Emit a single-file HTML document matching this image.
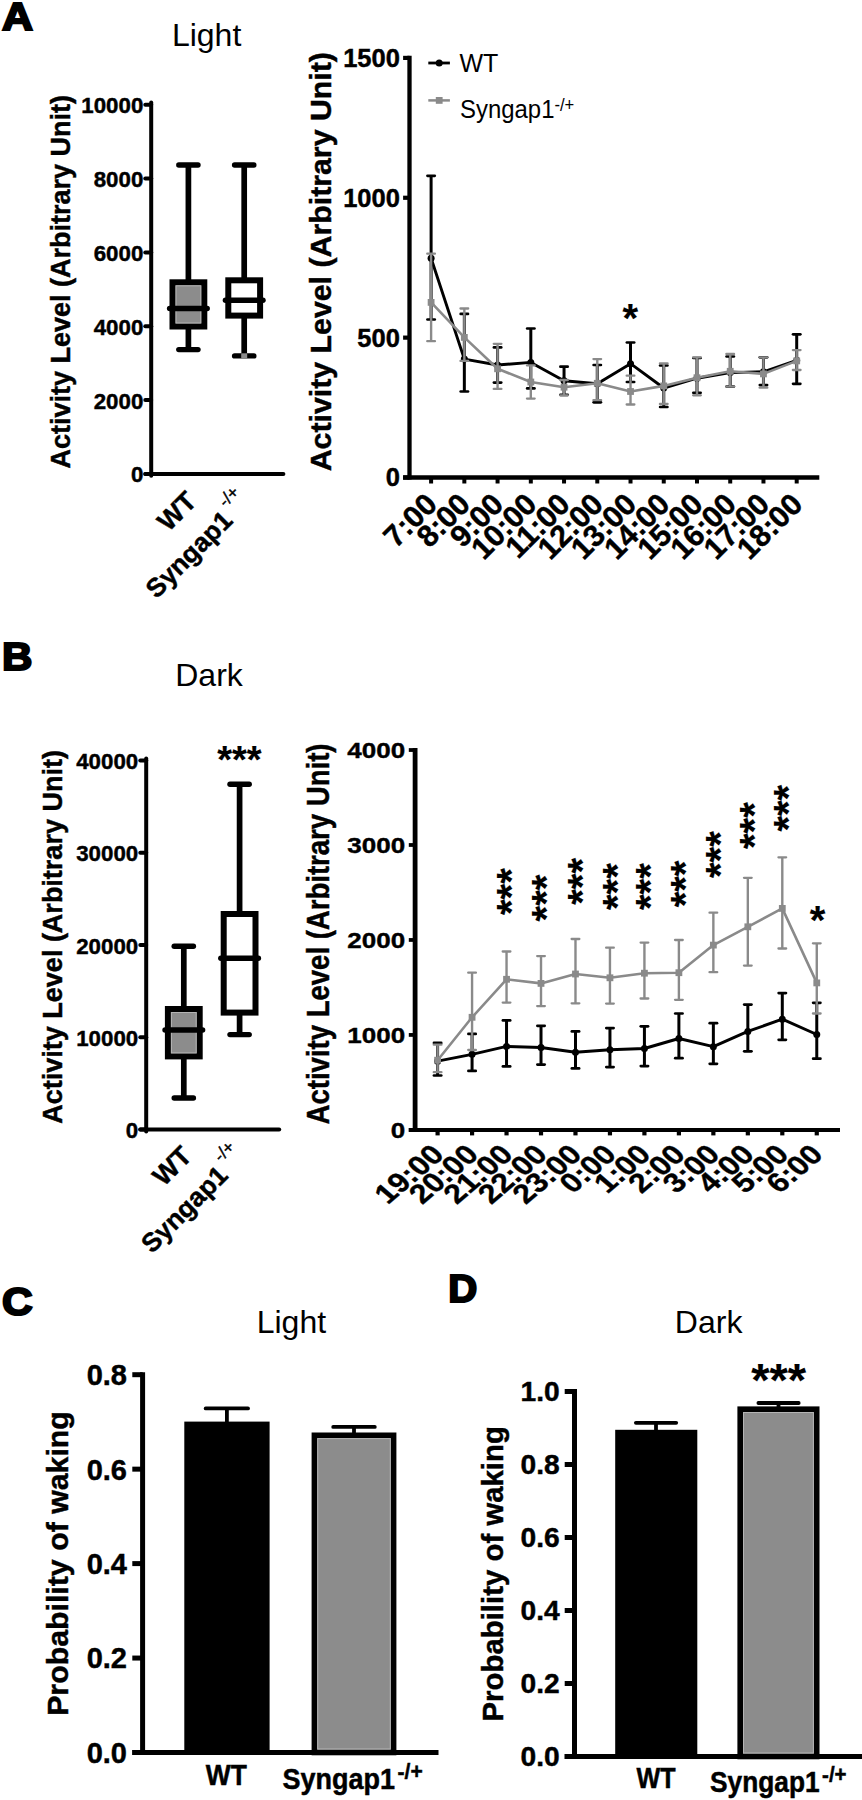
<!DOCTYPE html>
<html><head><meta charset="utf-8"><title>Figure</title>
<style>html,body{margin:0;padding:0;background:#fff}svg{display:block}text{font-family:"Liberation Sans",sans-serif;fill:#000}text.b,tspan.b{font-weight:bold;stroke:#000;stroke-width:0.45px}.sb{font-weight:bold;stroke:#000;stroke-width:0.15px}.sn{font-weight:normal;stroke:#000;stroke-width:0.4px}</style></head><body>
<svg width="862" height="1800" viewBox="0 0 862 1800">
<rect x="0" y="0" width="862" height="1800" fill="#fff"/>
<text transform="translate(2 29.6) scale(1.1 1)" font-size="39" font-weight="bold" stroke="#000" stroke-width="2.1" stroke-linejoin="miter">A</text>
<text transform="translate(2 670.2) scale(1.08 1)" font-size="39" font-weight="bold" stroke="#000" stroke-width="2.1" stroke-linejoin="miter">B</text>
<text transform="translate(2 1314.6) scale(1.09 1)" font-size="39" font-weight="bold" stroke="#000" stroke-width="2.1" stroke-linejoin="miter">C</text>
<text transform="translate(448.3 1302) scale(1.03 1)" font-size="39" font-weight="bold" stroke="#000" stroke-width="2.1" stroke-linejoin="miter">D</text>
<text transform="translate(206.6 46.2)" font-size="32" text-anchor="middle">Light</text>
<line x1="151.2" y1="102.6" x2="151.2" y2="475.8" stroke="#000" stroke-width="4" stroke-linecap="round"/>
<line x1="145.3" y1="473.9" x2="283.4" y2="473.9" stroke="#000" stroke-width="4" stroke-linecap="round"/>
<line x1="145.3" y1="473.9" x2="151.2" y2="473.9" stroke="#000" stroke-width="4" stroke-linecap="round"/>
<text class="b" transform="translate(143.3 482.4) scale(1 1.03)" font-size="22.3" text-anchor="end">0</text>
<line x1="145.3" y1="400.06" x2="151.2" y2="400.06" stroke="#000" stroke-width="4" stroke-linecap="round"/>
<text class="b" transform="translate(143.3 408.56) scale(1 1.03)" font-size="22.3" text-anchor="end">2000</text>
<line x1="145.3" y1="326.22" x2="151.2" y2="326.22" stroke="#000" stroke-width="4" stroke-linecap="round"/>
<text class="b" transform="translate(143.3 334.72) scale(1 1.03)" font-size="22.3" text-anchor="end">4000</text>
<line x1="145.3" y1="252.38" x2="151.2" y2="252.38" stroke="#000" stroke-width="4" stroke-linecap="round"/>
<text class="b" transform="translate(143.3 260.88) scale(1 1.03)" font-size="22.3" text-anchor="end">6000</text>
<line x1="145.3" y1="178.54" x2="151.2" y2="178.54" stroke="#000" stroke-width="4" stroke-linecap="round"/>
<text class="b" transform="translate(143.3 187.04) scale(1 1.03)" font-size="22.3" text-anchor="end">8000</text>
<line x1="145.3" y1="104.7" x2="151.2" y2="104.7" stroke="#000" stroke-width="4" stroke-linecap="round"/>
<text class="b" transform="translate(143.3 113.2) scale(1 1.03)" font-size="22.3" text-anchor="end">10000</text>
<text class="b" transform="translate(69.9 281.7) rotate(-90)" font-size="27" text-anchor="middle">Activity Level (Arbitrary Unit)</text>
<line x1="188.4" y1="165" x2="188.4" y2="349.6" stroke="#000" stroke-width="5.7" stroke-linecap="butt"/>
<line x1="178.8" y1="165" x2="198" y2="165" stroke="#000" stroke-width="5.4" stroke-linecap="round"/>
<line x1="178.8" y1="349.6" x2="198" y2="349.6" stroke="#000" stroke-width="5.4" stroke-linecap="round"/>
<rect x="172.5" y="282.3" width="31.8" height="44.2" fill="#8c8c8c" stroke="#000" stroke-width="6"/>
<rect x="176" y="285.8" width="24.8" height="37.2" fill="none" stroke="#b4b4b4" stroke-width="1"/>
<line x1="169.65" y1="308.4" x2="207.15" y2="308.4" stroke="#000" stroke-width="5.5" stroke-linecap="round"/>
<line x1="244.2" y1="165" x2="244.2" y2="355.9" stroke="#000" stroke-width="5.7" stroke-linecap="butt"/>
<line x1="234.6" y1="165" x2="253.8" y2="165" stroke="#000" stroke-width="5.4" stroke-linecap="round"/>
<line x1="234.6" y1="355.9" x2="253.8" y2="355.9" stroke="#000" stroke-width="5.4" stroke-linecap="round"/>
<rect x="228.3" y="280.3" width="31.8" height="35.3" fill="#fff" stroke="#000" stroke-width="6"/>
<line x1="225.45" y1="300.2" x2="262.95" y2="300.2" stroke="#000" stroke-width="5.5" stroke-linecap="round"/>
<rect x="241.2" y="353.3" width="6" height="5.2" fill="#8c8c8c" stroke="none" stroke-width="0"/>
<text class="b" transform="translate(198.1 502.8) rotate(-45)" font-size="27" text-anchor="end">WT</text>
<g transform="translate(234 522) rotate(-45)"><text class="b" font-size="26.3" text-anchor="end">Syngap1</text><text class="sn" x="3.9" y="-16" font-size="17.5">-/+</text></g>
<line x1="409.5" y1="55.81" x2="409.5" y2="479.6" stroke="#000" stroke-width="4.3" stroke-linecap="butt"/>
<line x1="403.1" y1="477.5" x2="819.3" y2="477.5" stroke="#000" stroke-width="4.3" stroke-linecap="butt"/>
<line x1="403.1" y1="477.5" x2="409.5" y2="477.5" stroke="#000" stroke-width="4.2" stroke-linecap="butt"/>
<text class="b" transform="translate(399.9 486.4)" font-size="25.5" text-anchor="end">0</text>
<line x1="403.1" y1="337.63" x2="409.5" y2="337.63" stroke="#000" stroke-width="4.2" stroke-linecap="butt"/>
<text class="b" transform="translate(399.9 346.53)" font-size="25.5" text-anchor="end">500</text>
<line x1="403.1" y1="197.77" x2="409.5" y2="197.77" stroke="#000" stroke-width="4.2" stroke-linecap="butt"/>
<text class="b" transform="translate(399.9 206.67)" font-size="25.5" text-anchor="end">1000</text>
<line x1="403.1" y1="57.91" x2="409.5" y2="57.91" stroke="#000" stroke-width="4.2" stroke-linecap="butt"/>
<text class="b" transform="translate(399.9 66.81)" font-size="25.5" text-anchor="end">1500</text>
<text class="b" transform="translate(331 261.7) rotate(-90)" font-size="30.3" text-anchor="middle">Activity Level (Arbitrary Unit)</text>
<line x1="431.1" y1="477.5" x2="431.1" y2="483.5" stroke="#000" stroke-width="4" stroke-linecap="butt"/>
<line x1="464.34" y1="477.5" x2="464.34" y2="483.5" stroke="#000" stroke-width="4" stroke-linecap="butt"/>
<line x1="497.57" y1="477.5" x2="497.57" y2="483.5" stroke="#000" stroke-width="4" stroke-linecap="butt"/>
<line x1="530.81" y1="477.5" x2="530.81" y2="483.5" stroke="#000" stroke-width="4" stroke-linecap="butt"/>
<line x1="564.04" y1="477.5" x2="564.04" y2="483.5" stroke="#000" stroke-width="4" stroke-linecap="butt"/>
<line x1="597.28" y1="477.5" x2="597.28" y2="483.5" stroke="#000" stroke-width="4" stroke-linecap="butt"/>
<line x1="630.52" y1="477.5" x2="630.52" y2="483.5" stroke="#000" stroke-width="4" stroke-linecap="butt"/>
<line x1="663.75" y1="477.5" x2="663.75" y2="483.5" stroke="#000" stroke-width="4" stroke-linecap="butt"/>
<line x1="696.99" y1="477.5" x2="696.99" y2="483.5" stroke="#000" stroke-width="4" stroke-linecap="butt"/>
<line x1="730.22" y1="477.5" x2="730.22" y2="483.5" stroke="#000" stroke-width="4" stroke-linecap="butt"/>
<line x1="763.46" y1="477.5" x2="763.46" y2="483.5" stroke="#000" stroke-width="4" stroke-linecap="butt"/>
<line x1="796.7" y1="477.5" x2="796.7" y2="483.5" stroke="#000" stroke-width="4" stroke-linecap="butt"/>
<text class="b" transform="translate(438.8 506.1) rotate(-45)" font-size="30.3" text-anchor="end">7:00</text>
<text class="b" transform="translate(472.04 506.1) rotate(-45)" font-size="30.3" text-anchor="end">8:00</text>
<text class="b" transform="translate(505.27 506.1) rotate(-45)" font-size="30.3" text-anchor="end">9:00</text>
<text class="b" transform="translate(538.51 506.1) rotate(-45)" font-size="30.3" text-anchor="end">10:00</text>
<text class="b" transform="translate(571.74 506.1) rotate(-45)" font-size="30.3" text-anchor="end">11:00</text>
<text class="b" transform="translate(604.98 506.1) rotate(-45)" font-size="30.3" text-anchor="end">12:00</text>
<text class="b" transform="translate(638.22 506.1) rotate(-45)" font-size="30.3" text-anchor="end">13:00</text>
<text class="b" transform="translate(671.45 506.1) rotate(-45)" font-size="30.3" text-anchor="end">14:00</text>
<text class="b" transform="translate(704.69 506.1) rotate(-45)" font-size="30.3" text-anchor="end">15:00</text>
<text class="b" transform="translate(737.92 506.1) rotate(-45)" font-size="30.3" text-anchor="end">16:00</text>
<text class="b" transform="translate(771.16 506.1) rotate(-45)" font-size="30.3" text-anchor="end">17:00</text>
<text class="b" transform="translate(804.4 506.1) rotate(-45)" font-size="30.3" text-anchor="end">18:00</text>
<line x1="431.1" y1="175.8" x2="431.1" y2="319.5" stroke="#000" stroke-width="3" stroke-linecap="butt"/>
<line x1="427.45" y1="175.8" x2="434.75" y2="175.8" stroke="#000" stroke-width="2.7" stroke-linecap="round"/>
<line x1="427.45" y1="319.5" x2="434.75" y2="319.5" stroke="#000" stroke-width="2.7" stroke-linecap="round"/>
<line x1="464.34" y1="313.9" x2="464.34" y2="391.5" stroke="#000" stroke-width="3" stroke-linecap="butt"/>
<line x1="460.69" y1="313.9" x2="467.99" y2="313.9" stroke="#000" stroke-width="2.7" stroke-linecap="round"/>
<line x1="460.69" y1="391.5" x2="467.99" y2="391.5" stroke="#000" stroke-width="2.7" stroke-linecap="round"/>
<line x1="497.57" y1="347.4" x2="497.57" y2="382.6" stroke="#000" stroke-width="3" stroke-linecap="butt"/>
<line x1="493.92" y1="347.4" x2="501.22" y2="347.4" stroke="#000" stroke-width="2.7" stroke-linecap="round"/>
<line x1="493.92" y1="382.6" x2="501.22" y2="382.6" stroke="#000" stroke-width="2.7" stroke-linecap="round"/>
<line x1="530.81" y1="328.5" x2="530.81" y2="388.4" stroke="#000" stroke-width="3" stroke-linecap="butt"/>
<line x1="527.16" y1="328.5" x2="534.46" y2="328.5" stroke="#000" stroke-width="2.7" stroke-linecap="round"/>
<line x1="527.16" y1="388.4" x2="534.46" y2="388.4" stroke="#000" stroke-width="2.7" stroke-linecap="round"/>
<line x1="564.04" y1="366.7" x2="564.04" y2="394.8" stroke="#000" stroke-width="3" stroke-linecap="butt"/>
<line x1="560.39" y1="366.7" x2="567.69" y2="366.7" stroke="#000" stroke-width="2.7" stroke-linecap="round"/>
<line x1="560.39" y1="394.8" x2="567.69" y2="394.8" stroke="#000" stroke-width="2.7" stroke-linecap="round"/>
<line x1="597.28" y1="365" x2="597.28" y2="402.3" stroke="#000" stroke-width="3" stroke-linecap="butt"/>
<line x1="593.63" y1="365" x2="600.93" y2="365" stroke="#000" stroke-width="2.7" stroke-linecap="round"/>
<line x1="593.63" y1="402.3" x2="600.93" y2="402.3" stroke="#000" stroke-width="2.7" stroke-linecap="round"/>
<line x1="630.52" y1="342.5" x2="630.52" y2="382" stroke="#000" stroke-width="3" stroke-linecap="butt"/>
<line x1="626.87" y1="342.5" x2="634.17" y2="342.5" stroke="#000" stroke-width="2.7" stroke-linecap="round"/>
<line x1="626.87" y1="382" x2="634.17" y2="382" stroke="#000" stroke-width="2.7" stroke-linecap="round"/>
<line x1="663.75" y1="365.5" x2="663.75" y2="407" stroke="#000" stroke-width="3" stroke-linecap="butt"/>
<line x1="660.1" y1="365.5" x2="667.4" y2="365.5" stroke="#000" stroke-width="2.7" stroke-linecap="round"/>
<line x1="660.1" y1="407" x2="667.4" y2="407" stroke="#000" stroke-width="2.7" stroke-linecap="round"/>
<line x1="696.99" y1="358" x2="696.99" y2="392.8" stroke="#000" stroke-width="3" stroke-linecap="butt"/>
<line x1="693.34" y1="358" x2="700.64" y2="358" stroke="#000" stroke-width="2.7" stroke-linecap="round"/>
<line x1="693.34" y1="392.8" x2="700.64" y2="392.8" stroke="#000" stroke-width="2.7" stroke-linecap="round"/>
<line x1="730.22" y1="356.5" x2="730.22" y2="386.6" stroke="#000" stroke-width="3" stroke-linecap="butt"/>
<line x1="726.57" y1="356.5" x2="733.87" y2="356.5" stroke="#000" stroke-width="2.7" stroke-linecap="round"/>
<line x1="726.57" y1="386.6" x2="733.87" y2="386.6" stroke="#000" stroke-width="2.7" stroke-linecap="round"/>
<line x1="763.46" y1="357.3" x2="763.46" y2="385.1" stroke="#000" stroke-width="3" stroke-linecap="butt"/>
<line x1="759.81" y1="357.3" x2="767.11" y2="357.3" stroke="#000" stroke-width="2.7" stroke-linecap="round"/>
<line x1="759.81" y1="385.1" x2="767.11" y2="385.1" stroke="#000" stroke-width="2.7" stroke-linecap="round"/>
<line x1="796.7" y1="334.3" x2="796.7" y2="383.8" stroke="#000" stroke-width="3" stroke-linecap="butt"/>
<line x1="793.05" y1="334.3" x2="800.35" y2="334.3" stroke="#000" stroke-width="2.7" stroke-linecap="round"/>
<line x1="793.05" y1="383.8" x2="800.35" y2="383.8" stroke="#000" stroke-width="2.7" stroke-linecap="round"/>
<polyline points="431.1,258.3 464.34,359.1 497.57,365 530.81,362.4 564.04,380.8 597.28,383.8 630.52,363.7 663.75,388 696.99,378.2 730.22,372.6 763.46,371.8 796.7,360.4" fill="none" stroke="#000" stroke-width="2.9" stroke-linejoin="round"/>
<circle cx="431.1" cy="258.3" r="3.5" fill="#000"/>
<circle cx="464.34" cy="359.1" r="3.5" fill="#000"/>
<circle cx="497.57" cy="365" r="3.5" fill="#000"/>
<circle cx="530.81" cy="362.4" r="3.5" fill="#000"/>
<circle cx="564.04" cy="380.8" r="3.5" fill="#000"/>
<circle cx="597.28" cy="383.8" r="3.5" fill="#000"/>
<circle cx="630.52" cy="363.7" r="3.5" fill="#000"/>
<circle cx="663.75" cy="388" r="3.5" fill="#000"/>
<circle cx="696.99" cy="378.2" r="3.5" fill="#000"/>
<circle cx="730.22" cy="372.6" r="3.5" fill="#000"/>
<circle cx="763.46" cy="371.8" r="3.5" fill="#000"/>
<circle cx="796.7" cy="360.4" r="3.5" fill="#000"/>
<line x1="431.1" y1="253.7" x2="431.1" y2="341.2" stroke="#8a8a8a" stroke-width="2.4" stroke-linecap="butt"/>
<line x1="427.25" y1="253.7" x2="434.95" y2="253.7" stroke="#8a8a8a" stroke-width="2.3" stroke-linecap="round"/>
<line x1="427.25" y1="341.2" x2="434.95" y2="341.2" stroke="#8a8a8a" stroke-width="2.3" stroke-linecap="round"/>
<line x1="464.34" y1="308.5" x2="464.34" y2="360.9" stroke="#8a8a8a" stroke-width="2.4" stroke-linecap="butt"/>
<line x1="460.49" y1="308.5" x2="468.19" y2="308.5" stroke="#8a8a8a" stroke-width="2.3" stroke-linecap="round"/>
<line x1="460.49" y1="360.9" x2="468.19" y2="360.9" stroke="#8a8a8a" stroke-width="2.3" stroke-linecap="round"/>
<line x1="497.57" y1="343.8" x2="497.57" y2="388.9" stroke="#8a8a8a" stroke-width="2.4" stroke-linecap="butt"/>
<line x1="493.72" y1="343.8" x2="501.42" y2="343.8" stroke="#8a8a8a" stroke-width="2.3" stroke-linecap="round"/>
<line x1="493.72" y1="388.9" x2="501.42" y2="388.9" stroke="#8a8a8a" stroke-width="2.3" stroke-linecap="round"/>
<line x1="530.81" y1="365.4" x2="530.81" y2="398.6" stroke="#8a8a8a" stroke-width="2.4" stroke-linecap="butt"/>
<line x1="526.96" y1="365.4" x2="534.66" y2="365.4" stroke="#8a8a8a" stroke-width="2.3" stroke-linecap="round"/>
<line x1="526.96" y1="398.6" x2="534.66" y2="398.6" stroke="#8a8a8a" stroke-width="2.3" stroke-linecap="round"/>
<line x1="564.04" y1="380" x2="564.04" y2="395.3" stroke="#8a8a8a" stroke-width="2.4" stroke-linecap="butt"/>
<line x1="560.19" y1="380" x2="567.89" y2="380" stroke="#8a8a8a" stroke-width="2.3" stroke-linecap="round"/>
<line x1="560.19" y1="395.3" x2="567.89" y2="395.3" stroke="#8a8a8a" stroke-width="2.3" stroke-linecap="round"/>
<line x1="597.28" y1="359.1" x2="597.28" y2="400.2" stroke="#8a8a8a" stroke-width="2.4" stroke-linecap="butt"/>
<line x1="593.43" y1="359.1" x2="601.13" y2="359.1" stroke="#8a8a8a" stroke-width="2.3" stroke-linecap="round"/>
<line x1="593.43" y1="400.2" x2="601.13" y2="400.2" stroke="#8a8a8a" stroke-width="2.3" stroke-linecap="round"/>
<line x1="630.52" y1="375.7" x2="630.52" y2="404.5" stroke="#8a8a8a" stroke-width="2.4" stroke-linecap="butt"/>
<line x1="626.67" y1="375.7" x2="634.37" y2="375.7" stroke="#8a8a8a" stroke-width="2.3" stroke-linecap="round"/>
<line x1="626.67" y1="404.5" x2="634.37" y2="404.5" stroke="#8a8a8a" stroke-width="2.3" stroke-linecap="round"/>
<line x1="663.75" y1="363.4" x2="663.75" y2="404" stroke="#8a8a8a" stroke-width="2.4" stroke-linecap="butt"/>
<line x1="659.9" y1="363.4" x2="667.6" y2="363.4" stroke="#8a8a8a" stroke-width="2.3" stroke-linecap="round"/>
<line x1="659.9" y1="404" x2="667.6" y2="404" stroke="#8a8a8a" stroke-width="2.3" stroke-linecap="round"/>
<line x1="696.99" y1="357.3" x2="696.99" y2="395.3" stroke="#8a8a8a" stroke-width="2.4" stroke-linecap="butt"/>
<line x1="693.14" y1="357.3" x2="700.84" y2="357.3" stroke="#8a8a8a" stroke-width="2.3" stroke-linecap="round"/>
<line x1="693.14" y1="395.3" x2="700.84" y2="395.3" stroke="#8a8a8a" stroke-width="2.3" stroke-linecap="round"/>
<line x1="730.22" y1="354" x2="730.22" y2="386.6" stroke="#8a8a8a" stroke-width="2.4" stroke-linecap="butt"/>
<line x1="726.37" y1="354" x2="734.07" y2="354" stroke="#8a8a8a" stroke-width="2.3" stroke-linecap="round"/>
<line x1="726.37" y1="386.6" x2="734.07" y2="386.6" stroke="#8a8a8a" stroke-width="2.3" stroke-linecap="round"/>
<line x1="763.46" y1="357.3" x2="763.46" y2="387.7" stroke="#8a8a8a" stroke-width="2.4" stroke-linecap="butt"/>
<line x1="759.61" y1="357.3" x2="767.31" y2="357.3" stroke="#8a8a8a" stroke-width="2.3" stroke-linecap="round"/>
<line x1="759.61" y1="387.7" x2="767.31" y2="387.7" stroke="#8a8a8a" stroke-width="2.3" stroke-linecap="round"/>
<line x1="796.7" y1="350.1" x2="796.7" y2="370" stroke="#8a8a8a" stroke-width="2.4" stroke-linecap="butt"/>
<line x1="792.85" y1="350.1" x2="800.55" y2="350.1" stroke="#8a8a8a" stroke-width="2.3" stroke-linecap="round"/>
<line x1="792.85" y1="370" x2="800.55" y2="370" stroke="#8a8a8a" stroke-width="2.3" stroke-linecap="round"/>
<polyline points="431.1,302.4 464.34,337.4 497.57,368.8 530.81,382 564.04,387.2 597.28,383.3 630.52,391.5 663.75,385.9 696.99,377.7 730.22,371.3 763.46,373.9 796.7,360.9" fill="none" stroke="#8a8a8a" stroke-width="2.6" stroke-linejoin="round"/>
<rect x="427.7" y="299" width="6.8" height="6.8" fill="#8a8a8a" stroke="none" stroke-width="0"/>
<rect x="460.94" y="334" width="6.8" height="6.8" fill="#8a8a8a" stroke="none" stroke-width="0"/>
<rect x="494.17" y="365.4" width="6.8" height="6.8" fill="#8a8a8a" stroke="none" stroke-width="0"/>
<rect x="527.41" y="378.6" width="6.8" height="6.8" fill="#8a8a8a" stroke="none" stroke-width="0"/>
<rect x="560.64" y="383.8" width="6.8" height="6.8" fill="#8a8a8a" stroke="none" stroke-width="0"/>
<rect x="593.88" y="379.9" width="6.8" height="6.8" fill="#8a8a8a" stroke="none" stroke-width="0"/>
<rect x="627.12" y="388.1" width="6.8" height="6.8" fill="#8a8a8a" stroke="none" stroke-width="0"/>
<rect x="660.35" y="382.5" width="6.8" height="6.8" fill="#8a8a8a" stroke="none" stroke-width="0"/>
<rect x="693.59" y="374.3" width="6.8" height="6.8" fill="#8a8a8a" stroke="none" stroke-width="0"/>
<rect x="726.82" y="367.9" width="6.8" height="6.8" fill="#8a8a8a" stroke="none" stroke-width="0"/>
<rect x="760.06" y="370.5" width="6.8" height="6.8" fill="#8a8a8a" stroke="none" stroke-width="0"/>
<rect x="793.3" y="357.5" width="6.8" height="6.8" fill="#8a8a8a" stroke="none" stroke-width="0"/>
<text class="sb" transform="translate(630.3 331.7)" font-size="40" text-anchor="middle">*</text>
<line x1="428.3" y1="63" x2="449.9" y2="63" stroke="#000" stroke-width="2.8" stroke-linecap="butt"/>
<circle cx="439.2" cy="63" r="3.5" fill="#000"/>
<text transform="translate(459.4 71.8)" font-size="25" text-anchor="start">WT</text>
<line x1="428.3" y1="100.4" x2="449.9" y2="100.4" stroke="#8a8a8a" stroke-width="2.5" stroke-linecap="butt"/>
<rect x="435.8" y="97" width="6.8" height="6.8" fill="#8a8a8a" stroke="none" stroke-width="0"/>
<text transform="translate(460 117.6) scale(0.95 1)" font-size="25.2">Syngap1<tspan font-size="17.5" dx="0" dy="-6.8">-/+</tspan></text>
<text transform="translate(209 686.2)" font-size="32" text-anchor="middle">Dark</text>
<line x1="146.2" y1="758.5" x2="146.2" y2="1131.5" stroke="#000" stroke-width="4" stroke-linecap="round"/>
<line x1="140.3" y1="1129.4" x2="279.2" y2="1129.4" stroke="#000" stroke-width="4" stroke-linecap="round"/>
<line x1="140.3" y1="1129.4" x2="146.2" y2="1129.4" stroke="#000" stroke-width="4" stroke-linecap="round"/>
<text class="b" transform="translate(138.2 1138) scale(1 1.03)" font-size="22.3" text-anchor="end">0</text>
<line x1="140.3" y1="1037.2" x2="146.2" y2="1037.2" stroke="#000" stroke-width="4" stroke-linecap="round"/>
<text class="b" transform="translate(138.2 1045.8) scale(1 1.03)" font-size="22.3" text-anchor="end">10000</text>
<line x1="140.3" y1="945" x2="146.2" y2="945" stroke="#000" stroke-width="4" stroke-linecap="round"/>
<text class="b" transform="translate(138.2 953.6) scale(1 1.03)" font-size="22.3" text-anchor="end">20000</text>
<line x1="140.3" y1="852.8" x2="146.2" y2="852.8" stroke="#000" stroke-width="4" stroke-linecap="round"/>
<text class="b" transform="translate(138.2 861.4) scale(1 1.03)" font-size="22.3" text-anchor="end">30000</text>
<line x1="140.3" y1="760.6" x2="146.2" y2="760.6" stroke="#000" stroke-width="4" stroke-linecap="round"/>
<text class="b" transform="translate(138.2 769.2) scale(1 1.03)" font-size="22.3" text-anchor="end">40000</text>
<text class="b" transform="translate(61.5 936.9) rotate(-90)" font-size="27" text-anchor="middle">Activity Level (Arbitrary Unit)</text>
<line x1="183.8" y1="946.2" x2="183.8" y2="1098" stroke="#000" stroke-width="5.7" stroke-linecap="butt"/>
<line x1="174.2" y1="946.2" x2="193.4" y2="946.2" stroke="#000" stroke-width="5.4" stroke-linecap="round"/>
<line x1="174.2" y1="1098" x2="193.4" y2="1098" stroke="#000" stroke-width="5.4" stroke-linecap="round"/>
<rect x="167.9" y="1009" width="31.8" height="47.4" fill="#8c8c8c" stroke="#000" stroke-width="6"/>
<rect x="171.4" y="1012.5" width="24.8" height="40.4" fill="none" stroke="#b4b4b4" stroke-width="1"/>
<line x1="165.05" y1="1030.1" x2="202.55" y2="1030.1" stroke="#000" stroke-width="5.5" stroke-linecap="round"/>
<line x1="239.6" y1="784.3" x2="239.6" y2="1034.6" stroke="#000" stroke-width="5.7" stroke-linecap="butt"/>
<line x1="230" y1="784.3" x2="249.2" y2="784.3" stroke="#000" stroke-width="5.4" stroke-linecap="round"/>
<line x1="230" y1="1034.6" x2="249.2" y2="1034.6" stroke="#000" stroke-width="5.4" stroke-linecap="round"/>
<rect x="223.7" y="914" width="31.8" height="98.6" fill="#fff" stroke="#000" stroke-width="6"/>
<line x1="220.85" y1="958.3" x2="258.35" y2="958.3" stroke="#000" stroke-width="5.5" stroke-linecap="round"/>
<text class="sb" transform="translate(239.4 773)" font-size="38" text-anchor="middle">***</text>
<text class="b" transform="translate(193.5 1157.6) rotate(-45)" font-size="27" text-anchor="end">WT</text>
<g transform="translate(229.4 1176.8) rotate(-45)"><text class="b" font-size="26.3" text-anchor="end">Syngap1</text><text class="sn" x="3.9" y="-16" font-size="17.5">-/+</text></g>
<line x1="415.1" y1="748.12" x2="415.1" y2="1131.9" stroke="#000" stroke-width="4.8" stroke-linecap="butt"/>
<line x1="408.8" y1="1129.9" x2="840" y2="1129.9" stroke="#000" stroke-width="4" stroke-linecap="butt"/>
<line x1="408.8" y1="1129.9" x2="415.1" y2="1129.9" stroke="#000" stroke-width="3.8" stroke-linecap="butt"/>
<text class="b" transform="translate(405.2 1137.7) scale(1.02 0.87)" font-size="25.5" text-anchor="end">0</text>
<line x1="408.8" y1="1034.93" x2="415.1" y2="1034.93" stroke="#000" stroke-width="3.8" stroke-linecap="butt"/>
<text class="b" transform="translate(405.2 1042.73) scale(1.02 0.87)" font-size="25.5" text-anchor="end">1000</text>
<line x1="408.8" y1="939.96" x2="415.1" y2="939.96" stroke="#000" stroke-width="3.8" stroke-linecap="butt"/>
<text class="b" transform="translate(405.2 947.76) scale(1.02 0.87)" font-size="25.5" text-anchor="end">2000</text>
<line x1="408.8" y1="844.99" x2="415.1" y2="844.99" stroke="#000" stroke-width="3.8" stroke-linecap="butt"/>
<text class="b" transform="translate(405.2 852.79) scale(1.02 0.87)" font-size="25.5" text-anchor="end">3000</text>
<line x1="408.8" y1="750.02" x2="415.1" y2="750.02" stroke="#000" stroke-width="3.8" stroke-linecap="butt"/>
<text class="b" transform="translate(405.2 757.82) scale(1.02 0.87)" font-size="25.5" text-anchor="end">4000</text>
<text class="b" transform="translate(329 934) scale(1 0.88) rotate(-90)" font-size="31.3" text-anchor="middle">Activity Level (Arbitrary Unit)</text>
<line x1="437.6" y1="1129.9" x2="437.6" y2="1135.4" stroke="#000" stroke-width="4.2" stroke-linecap="butt"/>
<line x1="472.07" y1="1129.9" x2="472.07" y2="1135.4" stroke="#000" stroke-width="4.2" stroke-linecap="butt"/>
<line x1="506.54" y1="1129.9" x2="506.54" y2="1135.4" stroke="#000" stroke-width="4.2" stroke-linecap="butt"/>
<line x1="541.01" y1="1129.9" x2="541.01" y2="1135.4" stroke="#000" stroke-width="4.2" stroke-linecap="butt"/>
<line x1="575.48" y1="1129.9" x2="575.48" y2="1135.4" stroke="#000" stroke-width="4.2" stroke-linecap="butt"/>
<line x1="609.95" y1="1129.9" x2="609.95" y2="1135.4" stroke="#000" stroke-width="4.2" stroke-linecap="butt"/>
<line x1="644.42" y1="1129.9" x2="644.42" y2="1135.4" stroke="#000" stroke-width="4.2" stroke-linecap="butt"/>
<line x1="678.89" y1="1129.9" x2="678.89" y2="1135.4" stroke="#000" stroke-width="4.2" stroke-linecap="butt"/>
<line x1="713.36" y1="1129.9" x2="713.36" y2="1135.4" stroke="#000" stroke-width="4.2" stroke-linecap="butt"/>
<line x1="747.83" y1="1129.9" x2="747.83" y2="1135.4" stroke="#000" stroke-width="4.2" stroke-linecap="butt"/>
<line x1="782.3" y1="1129.9" x2="782.3" y2="1135.4" stroke="#000" stroke-width="4.2" stroke-linecap="butt"/>
<line x1="816.77" y1="1129.9" x2="816.77" y2="1135.4" stroke="#000" stroke-width="4.2" stroke-linecap="butt"/>
<text class="b" transform="translate(445.5 1156) scale(1.03 0.88) rotate(-45)" font-size="31" text-anchor="end">19:00</text>
<text class="b" transform="translate(479.97 1156) scale(1.03 0.88) rotate(-45)" font-size="31" text-anchor="end">20:00</text>
<text class="b" transform="translate(514.44 1156) scale(1.03 0.88) rotate(-45)" font-size="31" text-anchor="end">21:00</text>
<text class="b" transform="translate(548.91 1156) scale(1.03 0.88) rotate(-45)" font-size="31" text-anchor="end">22:00</text>
<text class="b" transform="translate(583.38 1156) scale(1.03 0.88) rotate(-45)" font-size="31" text-anchor="end">23:00</text>
<text class="b" transform="translate(617.85 1156) scale(1.03 0.88) rotate(-45)" font-size="31" text-anchor="end">0:00</text>
<text class="b" transform="translate(652.32 1156) scale(1.03 0.88) rotate(-45)" font-size="31" text-anchor="end">1:00</text>
<text class="b" transform="translate(686.79 1156) scale(1.03 0.88) rotate(-45)" font-size="31" text-anchor="end">2:00</text>
<text class="b" transform="translate(721.26 1156) scale(1.03 0.88) rotate(-45)" font-size="31" text-anchor="end">3:00</text>
<text class="b" transform="translate(755.73 1156) scale(1.03 0.88) rotate(-45)" font-size="31" text-anchor="end">4:00</text>
<text class="b" transform="translate(790.2 1156) scale(1.03 0.88) rotate(-45)" font-size="31" text-anchor="end">5:00</text>
<text class="b" transform="translate(824.67 1156) scale(1.03 0.88) rotate(-45)" font-size="31" text-anchor="end">6:00</text>
<line x1="437.6" y1="1042.9" x2="437.6" y2="1075.5" stroke="#000" stroke-width="3" stroke-linecap="butt"/>
<line x1="433.95" y1="1042.9" x2="441.25" y2="1042.9" stroke="#000" stroke-width="2.7" stroke-linecap="round"/>
<line x1="433.95" y1="1075.5" x2="441.25" y2="1075.5" stroke="#000" stroke-width="2.7" stroke-linecap="round"/>
<line x1="472.07" y1="1033.9" x2="472.07" y2="1070.9" stroke="#000" stroke-width="3" stroke-linecap="butt"/>
<line x1="468.42" y1="1033.9" x2="475.72" y2="1033.9" stroke="#000" stroke-width="2.7" stroke-linecap="round"/>
<line x1="468.42" y1="1070.9" x2="475.72" y2="1070.9" stroke="#000" stroke-width="2.7" stroke-linecap="round"/>
<line x1="506.54" y1="1020.4" x2="506.54" y2="1066.4" stroke="#000" stroke-width="3" stroke-linecap="butt"/>
<line x1="502.89" y1="1020.4" x2="510.19" y2="1020.4" stroke="#000" stroke-width="2.7" stroke-linecap="round"/>
<line x1="502.89" y1="1066.4" x2="510.19" y2="1066.4" stroke="#000" stroke-width="2.7" stroke-linecap="round"/>
<line x1="541.01" y1="1025.8" x2="541.01" y2="1064.6" stroke="#000" stroke-width="3" stroke-linecap="butt"/>
<line x1="537.36" y1="1025.8" x2="544.66" y2="1025.8" stroke="#000" stroke-width="2.7" stroke-linecap="round"/>
<line x1="537.36" y1="1064.6" x2="544.66" y2="1064.6" stroke="#000" stroke-width="2.7" stroke-linecap="round"/>
<line x1="575.48" y1="1031.4" x2="575.48" y2="1068.4" stroke="#000" stroke-width="3" stroke-linecap="butt"/>
<line x1="571.83" y1="1031.4" x2="579.13" y2="1031.4" stroke="#000" stroke-width="2.7" stroke-linecap="round"/>
<line x1="571.83" y1="1068.4" x2="579.13" y2="1068.4" stroke="#000" stroke-width="2.7" stroke-linecap="round"/>
<line x1="609.95" y1="1028.1" x2="609.95" y2="1067.1" stroke="#000" stroke-width="3" stroke-linecap="butt"/>
<line x1="606.3" y1="1028.1" x2="613.6" y2="1028.1" stroke="#000" stroke-width="2.7" stroke-linecap="round"/>
<line x1="606.3" y1="1067.1" x2="613.6" y2="1067.1" stroke="#000" stroke-width="2.7" stroke-linecap="round"/>
<line x1="644.42" y1="1026.3" x2="644.42" y2="1066.1" stroke="#000" stroke-width="3" stroke-linecap="butt"/>
<line x1="640.77" y1="1026.3" x2="648.07" y2="1026.3" stroke="#000" stroke-width="2.7" stroke-linecap="round"/>
<line x1="640.77" y1="1066.1" x2="648.07" y2="1066.1" stroke="#000" stroke-width="2.7" stroke-linecap="round"/>
<line x1="678.89" y1="1013.5" x2="678.89" y2="1058.2" stroke="#000" stroke-width="3" stroke-linecap="butt"/>
<line x1="675.24" y1="1013.5" x2="682.54" y2="1013.5" stroke="#000" stroke-width="2.7" stroke-linecap="round"/>
<line x1="675.24" y1="1058.2" x2="682.54" y2="1058.2" stroke="#000" stroke-width="2.7" stroke-linecap="round"/>
<line x1="713.36" y1="1023.2" x2="713.36" y2="1063.8" stroke="#000" stroke-width="3" stroke-linecap="butt"/>
<line x1="709.71" y1="1023.2" x2="717.01" y2="1023.2" stroke="#000" stroke-width="2.7" stroke-linecap="round"/>
<line x1="709.71" y1="1063.8" x2="717.01" y2="1063.8" stroke="#000" stroke-width="2.7" stroke-linecap="round"/>
<line x1="747.83" y1="1004.6" x2="747.83" y2="1051.3" stroke="#000" stroke-width="3" stroke-linecap="butt"/>
<line x1="744.18" y1="1004.6" x2="751.48" y2="1004.6" stroke="#000" stroke-width="2.7" stroke-linecap="round"/>
<line x1="744.18" y1="1051.3" x2="751.48" y2="1051.3" stroke="#000" stroke-width="2.7" stroke-linecap="round"/>
<line x1="782.3" y1="993.1" x2="782.3" y2="1039.8" stroke="#000" stroke-width="3" stroke-linecap="butt"/>
<line x1="778.65" y1="993.1" x2="785.95" y2="993.1" stroke="#000" stroke-width="2.7" stroke-linecap="round"/>
<line x1="778.65" y1="1039.8" x2="785.95" y2="1039.8" stroke="#000" stroke-width="2.7" stroke-linecap="round"/>
<line x1="816.77" y1="1002.8" x2="816.77" y2="1058.7" stroke="#000" stroke-width="3" stroke-linecap="butt"/>
<line x1="813.12" y1="1002.8" x2="820.42" y2="1002.8" stroke="#000" stroke-width="2.7" stroke-linecap="round"/>
<line x1="813.12" y1="1058.7" x2="820.42" y2="1058.7" stroke="#000" stroke-width="2.7" stroke-linecap="round"/>
<polyline points="437.6,1061.2 472.07,1054.3 506.54,1046.4 541.01,1047.5 575.48,1052.3 609.95,1049.8 644.42,1048.5 678.89,1038.5 713.36,1046.7 747.83,1031.4 782.3,1019.2 816.77,1034.5" fill="none" stroke="#000" stroke-width="2.9" stroke-linejoin="round"/>
<circle cx="437.6" cy="1061.2" r="3.5" fill="#000"/>
<circle cx="472.07" cy="1054.3" r="3.5" fill="#000"/>
<circle cx="506.54" cy="1046.4" r="3.5" fill="#000"/>
<circle cx="541.01" cy="1047.5" r="3.5" fill="#000"/>
<circle cx="575.48" cy="1052.3" r="3.5" fill="#000"/>
<circle cx="609.95" cy="1049.8" r="3.5" fill="#000"/>
<circle cx="644.42" cy="1048.5" r="3.5" fill="#000"/>
<circle cx="678.89" cy="1038.5" r="3.5" fill="#000"/>
<circle cx="713.36" cy="1046.7" r="3.5" fill="#000"/>
<circle cx="747.83" cy="1031.4" r="3.5" fill="#000"/>
<circle cx="782.3" cy="1019.2" r="3.5" fill="#000"/>
<circle cx="816.77" cy="1034.5" r="3.5" fill="#000"/>
<line x1="437.6" y1="1044.7" x2="437.6" y2="1072.2" stroke="#8a8a8a" stroke-width="2.4" stroke-linecap="butt"/>
<line x1="433.75" y1="1044.7" x2="441.45" y2="1044.7" stroke="#8a8a8a" stroke-width="2.3" stroke-linecap="round"/>
<line x1="433.75" y1="1072.2" x2="441.45" y2="1072.2" stroke="#8a8a8a" stroke-width="2.3" stroke-linecap="round"/>
<line x1="472.07" y1="972.7" x2="472.07" y2="1050" stroke="#8a8a8a" stroke-width="2.4" stroke-linecap="butt"/>
<line x1="468.22" y1="972.7" x2="475.92" y2="972.7" stroke="#8a8a8a" stroke-width="2.3" stroke-linecap="round"/>
<line x1="468.22" y1="1050" x2="475.92" y2="1050" stroke="#8a8a8a" stroke-width="2.3" stroke-linecap="round"/>
<line x1="506.54" y1="951.5" x2="506.54" y2="1002.6" stroke="#8a8a8a" stroke-width="2.4" stroke-linecap="butt"/>
<line x1="502.69" y1="951.5" x2="510.39" y2="951.5" stroke="#8a8a8a" stroke-width="2.3" stroke-linecap="round"/>
<line x1="502.69" y1="1002.6" x2="510.39" y2="1002.6" stroke="#8a8a8a" stroke-width="2.3" stroke-linecap="round"/>
<line x1="541.01" y1="956.1" x2="541.01" y2="1006.1" stroke="#8a8a8a" stroke-width="2.4" stroke-linecap="butt"/>
<line x1="537.16" y1="956.1" x2="544.86" y2="956.1" stroke="#8a8a8a" stroke-width="2.3" stroke-linecap="round"/>
<line x1="537.16" y1="1006.1" x2="544.86" y2="1006.1" stroke="#8a8a8a" stroke-width="2.3" stroke-linecap="round"/>
<line x1="575.48" y1="939" x2="575.48" y2="1003.3" stroke="#8a8a8a" stroke-width="2.4" stroke-linecap="butt"/>
<line x1="571.63" y1="939" x2="579.33" y2="939" stroke="#8a8a8a" stroke-width="2.3" stroke-linecap="round"/>
<line x1="571.63" y1="1003.3" x2="579.33" y2="1003.3" stroke="#8a8a8a" stroke-width="2.3" stroke-linecap="round"/>
<line x1="609.95" y1="947.7" x2="609.95" y2="1003.6" stroke="#8a8a8a" stroke-width="2.4" stroke-linecap="butt"/>
<line x1="606.1" y1="947.7" x2="613.8" y2="947.7" stroke="#8a8a8a" stroke-width="2.3" stroke-linecap="round"/>
<line x1="606.1" y1="1003.6" x2="613.8" y2="1003.6" stroke="#8a8a8a" stroke-width="2.3" stroke-linecap="round"/>
<line x1="644.42" y1="942.6" x2="644.42" y2="998.5" stroke="#8a8a8a" stroke-width="2.4" stroke-linecap="butt"/>
<line x1="640.57" y1="942.6" x2="648.27" y2="942.6" stroke="#8a8a8a" stroke-width="2.3" stroke-linecap="round"/>
<line x1="640.57" y1="998.5" x2="648.27" y2="998.5" stroke="#8a8a8a" stroke-width="2.3" stroke-linecap="round"/>
<line x1="678.89" y1="940" x2="678.89" y2="999.8" stroke="#8a8a8a" stroke-width="2.4" stroke-linecap="butt"/>
<line x1="675.04" y1="940" x2="682.74" y2="940" stroke="#8a8a8a" stroke-width="2.3" stroke-linecap="round"/>
<line x1="675.04" y1="999.8" x2="682.74" y2="999.8" stroke="#8a8a8a" stroke-width="2.3" stroke-linecap="round"/>
<line x1="713.36" y1="912.7" x2="713.36" y2="972.2" stroke="#8a8a8a" stroke-width="2.4" stroke-linecap="butt"/>
<line x1="709.51" y1="912.7" x2="717.21" y2="912.7" stroke="#8a8a8a" stroke-width="2.3" stroke-linecap="round"/>
<line x1="709.51" y1="972.2" x2="717.21" y2="972.2" stroke="#8a8a8a" stroke-width="2.3" stroke-linecap="round"/>
<line x1="747.83" y1="877.8" x2="747.83" y2="965.6" stroke="#8a8a8a" stroke-width="2.4" stroke-linecap="butt"/>
<line x1="743.98" y1="877.8" x2="751.68" y2="877.8" stroke="#8a8a8a" stroke-width="2.3" stroke-linecap="round"/>
<line x1="743.98" y1="965.6" x2="751.68" y2="965.6" stroke="#8a8a8a" stroke-width="2.3" stroke-linecap="round"/>
<line x1="782.3" y1="857.3" x2="782.3" y2="948.5" stroke="#8a8a8a" stroke-width="2.4" stroke-linecap="butt"/>
<line x1="778.45" y1="857.3" x2="786.15" y2="857.3" stroke="#8a8a8a" stroke-width="2.3" stroke-linecap="round"/>
<line x1="778.45" y1="948.5" x2="786.15" y2="948.5" stroke="#8a8a8a" stroke-width="2.3" stroke-linecap="round"/>
<line x1="816.77" y1="943.3" x2="816.77" y2="1013.5" stroke="#8a8a8a" stroke-width="2.4" stroke-linecap="butt"/>
<line x1="812.92" y1="943.3" x2="820.62" y2="943.3" stroke="#8a8a8a" stroke-width="2.3" stroke-linecap="round"/>
<line x1="812.92" y1="1013.5" x2="820.62" y2="1013.5" stroke="#8a8a8a" stroke-width="2.3" stroke-linecap="round"/>
<polyline points="437.6,1060.2 472.07,1017.3 506.54,979.3 541.01,983.4 575.48,974 609.95,977.8 644.42,973.2 678.89,972.7 713.36,945.1 747.83,926.8 782.3,908.4 816.77,982.9" fill="none" stroke="#8a8a8a" stroke-width="2.6" stroke-linejoin="round"/>
<rect x="434.2" y="1056.8" width="6.8" height="6.8" fill="#8a8a8a" stroke="none" stroke-width="0"/>
<rect x="468.67" y="1013.9" width="6.8" height="6.8" fill="#8a8a8a" stroke="none" stroke-width="0"/>
<rect x="503.14" y="975.9" width="6.8" height="6.8" fill="#8a8a8a" stroke="none" stroke-width="0"/>
<rect x="537.61" y="980" width="6.8" height="6.8" fill="#8a8a8a" stroke="none" stroke-width="0"/>
<rect x="572.08" y="970.6" width="6.8" height="6.8" fill="#8a8a8a" stroke="none" stroke-width="0"/>
<rect x="606.55" y="974.4" width="6.8" height="6.8" fill="#8a8a8a" stroke="none" stroke-width="0"/>
<rect x="641.02" y="969.8" width="6.8" height="6.8" fill="#8a8a8a" stroke="none" stroke-width="0"/>
<rect x="675.49" y="969.3" width="6.8" height="6.8" fill="#8a8a8a" stroke="none" stroke-width="0"/>
<rect x="709.96" y="941.7" width="6.8" height="6.8" fill="#8a8a8a" stroke="none" stroke-width="0"/>
<rect x="744.43" y="923.4" width="6.8" height="6.8" fill="#8a8a8a" stroke="none" stroke-width="0"/>
<rect x="778.9" y="905" width="6.8" height="6.8" fill="#8a8a8a" stroke="none" stroke-width="0"/>
<rect x="813.37" y="979.5" width="6.8" height="6.8" fill="#8a8a8a" stroke="none" stroke-width="0"/>
<text class="sb" transform="translate(524.5 891.65) rotate(-90)" font-size="40" text-anchor="middle">***</text>
<text class="sb" transform="translate(560.3 898.05) rotate(-90)" font-size="40" text-anchor="middle">***</text>
<text class="sb" transform="translate(596 881.4) rotate(-90)" font-size="40" text-anchor="middle">***</text>
<text class="sb" transform="translate(631.2 886.6) rotate(-90)" font-size="40" text-anchor="middle">***</text>
<text class="sb" transform="translate(663.6 886.6) rotate(-90)" font-size="40" text-anchor="middle">***</text>
<text class="sb" transform="translate(699.3 884) rotate(-90)" font-size="40" text-anchor="middle">***</text>
<text class="sb" transform="translate(733.8 854.65) rotate(-90)" font-size="40" text-anchor="middle">***</text>
<text class="sb" transform="translate(768.3 825.6) rotate(-90)" font-size="40" text-anchor="middle">***</text>
<text class="sb" transform="translate(801.9 808.2) rotate(-90)" font-size="40" text-anchor="middle">***</text>
<text class="sb" transform="translate(817.5 934)" font-size="40" text-anchor="middle">*</text>
<text transform="translate(291.4 1332.5)" font-size="32" text-anchor="middle">Light</text>
<rect x="184.3" y="1421.6" width="85.3" height="330.9" fill="#000" stroke="none" stroke-width="0"/>
<line x1="226.9" y1="1408.4" x2="226.9" y2="1423" stroke="#000" stroke-width="3.8" stroke-linecap="butt"/>
<line x1="205.7" y1="1408.4" x2="248" y2="1408.4" stroke="#000" stroke-width="3.8" stroke-linecap="round"/>
<line x1="354" y1="1426.9" x2="354" y2="1435" stroke="#000" stroke-width="3.8" stroke-linecap="butt"/>
<line x1="333.2" y1="1426.9" x2="374.8" y2="1426.9" stroke="#000" stroke-width="3.8" stroke-linecap="round"/>
<rect x="314.4" y="1435.3" width="79.2" height="317.2" fill="#8c8c8c" stroke="#000" stroke-width="5.6"/>
<rect x="317.7" y="1438.6" width="72.6" height="310.4" fill="none" stroke="#b4b4b4" stroke-width="1"/>
<line x1="142.6" y1="1372.2" x2="142.6" y2="1755" stroke="#000" stroke-width="5" stroke-linecap="butt"/>
<line x1="132.3" y1="1752.5" x2="438.5" y2="1752.5" stroke="#000" stroke-width="5" stroke-linecap="butt"/>
<line x1="132.3" y1="1752.5" x2="142.6" y2="1752.5" stroke="#000" stroke-width="5" stroke-linecap="butt"/>
<text class="b" transform="translate(127 1762.9)" font-size="29" text-anchor="end">0.0</text>
<line x1="132.3" y1="1658.05" x2="142.6" y2="1658.05" stroke="#000" stroke-width="5" stroke-linecap="butt"/>
<text class="b" transform="translate(127 1668.45)" font-size="29" text-anchor="end">0.2</text>
<line x1="132.3" y1="1563.6" x2="142.6" y2="1563.6" stroke="#000" stroke-width="5" stroke-linecap="butt"/>
<text class="b" transform="translate(127 1574)" font-size="29" text-anchor="end">0.4</text>
<line x1="132.3" y1="1469.15" x2="142.6" y2="1469.15" stroke="#000" stroke-width="5" stroke-linecap="butt"/>
<text class="b" transform="translate(127 1479.55)" font-size="29" text-anchor="end">0.6</text>
<line x1="132.3" y1="1374.7" x2="142.6" y2="1374.7" stroke="#000" stroke-width="5" stroke-linecap="butt"/>
<text class="b" transform="translate(127 1385.1)" font-size="29" text-anchor="end">0.8</text>
<text class="b" transform="translate(67.9 1563.5) rotate(-90)" font-size="30.3" text-anchor="middle">Probability of waking</text>
<text class="b" transform="translate(226.3 1784.9) scale(0.96 1.08)" font-size="27.5" text-anchor="middle">WT</text>
<text class="b" transform="translate(282.6 1789) scale(1 1.08)" font-size="27">Syngap1<tspan class="b" font-size="21" dx="2.5" dy="-9">-/+</tspan></text>
<text transform="translate(708.6 1332.8)" font-size="32" text-anchor="middle">Dark</text>
<rect x="615.2" y="1429.8" width="82.1" height="326.7" fill="#000" stroke="none" stroke-width="0"/>
<line x1="656" y1="1422.8" x2="656" y2="1431" stroke="#000" stroke-width="3.8" stroke-linecap="butt"/>
<line x1="635.9" y1="1422.8" x2="676.2" y2="1422.8" stroke="#000" stroke-width="3.8" stroke-linecap="round"/>
<line x1="778.5" y1="1403" x2="778.5" y2="1409" stroke="#000" stroke-width="3.8" stroke-linecap="butt"/>
<line x1="758.4" y1="1403" x2="798.7" y2="1403" stroke="#000" stroke-width="3.8" stroke-linecap="round"/>
<rect x="740.2" y="1409.2" width="76.5" height="347.3" fill="#8c8c8c" stroke="#000" stroke-width="5.6"/>
<rect x="743.5" y="1412.5" width="69.9" height="340.5" fill="none" stroke="#b4b4b4" stroke-width="1"/>
<line x1="574.5" y1="1389" x2="574.5" y2="1759" stroke="#000" stroke-width="5" stroke-linecap="butt"/>
<line x1="564.7" y1="1756.5" x2="862" y2="1756.5" stroke="#000" stroke-width="5" stroke-linecap="butt"/>
<line x1="564.7" y1="1756.5" x2="574.5" y2="1756.5" stroke="#000" stroke-width="5" stroke-linecap="butt"/>
<text class="b" transform="translate(559.8 1766.2) scale(1 0.95)" font-size="28.2" text-anchor="end">0.0</text>
<line x1="564.7" y1="1683.5" x2="574.5" y2="1683.5" stroke="#000" stroke-width="5" stroke-linecap="butt"/>
<text class="b" transform="translate(559.8 1693.2) scale(1 0.95)" font-size="28.2" text-anchor="end">0.2</text>
<line x1="564.7" y1="1610.5" x2="574.5" y2="1610.5" stroke="#000" stroke-width="5" stroke-linecap="butt"/>
<text class="b" transform="translate(559.8 1620.2) scale(1 0.95)" font-size="28.2" text-anchor="end">0.4</text>
<line x1="564.7" y1="1537.5" x2="574.5" y2="1537.5" stroke="#000" stroke-width="5" stroke-linecap="butt"/>
<text class="b" transform="translate(559.8 1547.2) scale(1 0.95)" font-size="28.2" text-anchor="end">0.6</text>
<line x1="564.7" y1="1464.5" x2="574.5" y2="1464.5" stroke="#000" stroke-width="5" stroke-linecap="butt"/>
<text class="b" transform="translate(559.8 1474.2) scale(1 0.95)" font-size="28.2" text-anchor="end">0.8</text>
<line x1="564.7" y1="1391.5" x2="574.5" y2="1391.5" stroke="#000" stroke-width="5" stroke-linecap="butt"/>
<text class="b" transform="translate(559.8 1401.2) scale(1 0.95)" font-size="28.2" text-anchor="end">1.0</text>
<text class="b" transform="translate(503.1 1573.8) scale(1 0.97) rotate(-90)" font-size="30.3" text-anchor="middle">Probability of waking</text>
<text class="sb" transform="translate(778.6 1396)" font-size="47" text-anchor="middle">***</text>
<text class="b" transform="translate(656 1788) scale(0.95 1.09)" font-size="26.5" text-anchor="middle">WT</text>
<text class="b" transform="translate(710 1792) scale(1 1.09)" font-size="26.3">Syngap1<tspan class="b" font-size="20.5" dx="2.5" dy="-9">-/+</tspan></text>
</svg></body></html>
